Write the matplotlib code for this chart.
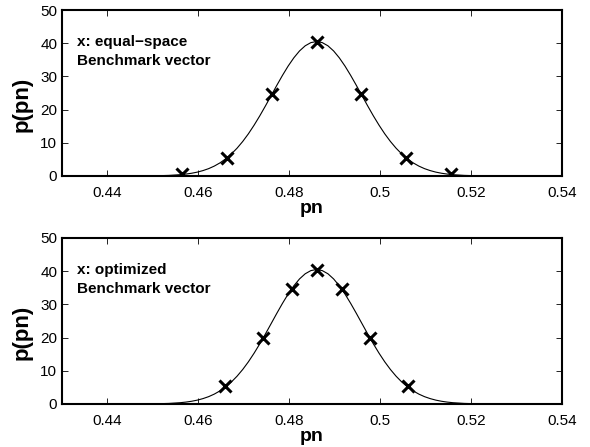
import matplotlib
matplotlib.use("Agg")
import matplotlib.pyplot as plt

plt.rcParams['font.family'] = ['Liberation Sans', 'DejaVu Sans']

# density curve p(pn), sampled along pn
curve_x = [0.43, 0.431, 0.4335, 0.436, 0.4385, 0.441, 0.4435, 0.446, 0.4485, 0.451, 0.4535, 0.456,
           0.45725, 0.4585, 0.45975, 0.461, 0.46225, 0.4635, 0.46475, 0.466, 0.46725, 0.4685,
           0.46975, 0.471, 0.47225, 0.4735, 0.47475, 0.476, 0.47725, 0.4785, 0.47975, 0.481,
           0.48225, 0.4835, 0.48475, 0.486,
           0.48725, 0.4885, 0.48975, 0.491, 0.49225, 0.4935, 0.49475, 0.496, 0.49725, 0.4985,
           0.49975, 0.501, 0.50225, 0.5035, 0.50475, 0.506, 0.50725, 0.5085, 0.50975, 0.511,
           0.51225, 0.5135, 0.51475, 0.516, 0.5185, 0.521, 0.5235, 0.526, 0.5285, 0.531,
           0.5335, 0.536, 0.5385, 0.54]
curve_y = [0, 0, 0, 0.0001, 0.0004, 0.0012, 0.0037, 0.0106, 0.0288, 0.0735, 0.175, 0.392,
           0.572, 0.822, 1.16, 1.62, 2.21, 2.98, 3.95, 5.16, 6.62, 8.36,
           10.39, 12.70, 15.29, 18.10, 21.10, 24.19, 27.30, 30.31, 33.12, 35.60,
           37.67, 39.22, 40.18, 40.5,
           40.18, 39.22, 37.67, 35.60, 33.12, 30.31, 27.30, 24.19, 21.10, 18.10,
           15.29, 12.70, 10.39, 8.36, 6.62, 5.16, 3.95, 2.98, 2.21, 1.62,
           1.16, 0.822, 0.572, 0.392, 0.175, 0.0735, 0.0288, 0.0106, 0.0037, 0.0012,
           0.0004, 0.0001, 0, 0]

# benchmark vectors
equal_x = [0.4565, 0.4663, 0.4762, 0.486, 0.4958, 0.5057, 0.5155]
equal_y = [0.45, 5.5, 24.6, 40.5, 24.6, 5.5, 0.45]
opt_x = [0.4658, 0.4742, 0.4805, 0.486, 0.4915, 0.4978, 0.5062]
opt_y = [5.3, 19.9, 34.7, 40.5, 34.7, 19.9, 5.3]

xticks = [0.44, 0.46, 0.48, 0.5, 0.52, 0.54]
xticklabels = ['0.44', '0.46', '0.48', '0.5', '0.52', '0.54']
yticks = [0, 10, 20, 30, 40, 50]

panels = [
    (equal_x, equal_y, 'x: equal\u2212space\nBenchmark vector'),
    (opt_x, opt_y, 'x: optimized\nBenchmark vector'),
]

fig = plt.figure(figsize=(5.9, 4.47), dpi=100)
boxes = [[0.1051, 0.6063, 0.8475, 0.3713], [0.1051, 0.0962, 0.8475, 0.3714]]

for box, (px, py, note) in zip(boxes, panels):
    ax = fig.add_axes(box)
    ax.plot(curve_x, curve_y, color='black', lw=0.8)
    ax.plot(px, py, linestyle='none', marker='x', color='black',
            markersize=8, markeredgewidth=2.2)
    ax.set_xlim(0.43, 0.54)
    ax.set_ylim(0, 50)
    ax.set_xticks(xticks)
    ax.set_xticklabels(xticklabels)
    ax.set_yticks(yticks)
    ax.tick_params(direction='in', top=True, right=True, length=4, width=0.6,
                   labelsize=11)
    ax.tick_params(axis='x', pad=7)
    for s in ax.spines.values():
        s.set_linewidth(1.5)
    ax.set_xlabel('pn', fontsize=14, fontweight='bold', labelpad=0)
    ax.set_ylabel('p(pn)', fontsize=16, fontweight='bold')
    ax.yaxis.set_label_coords(-0.058, 0.43)
    ax.text(0.03, 0.848, note, transform=ax.transAxes, fontsize=11,
            fontweight='bold', va='top', ha='left', linespacing=1.4)

fig.savefig('out.png', dpi=100)
